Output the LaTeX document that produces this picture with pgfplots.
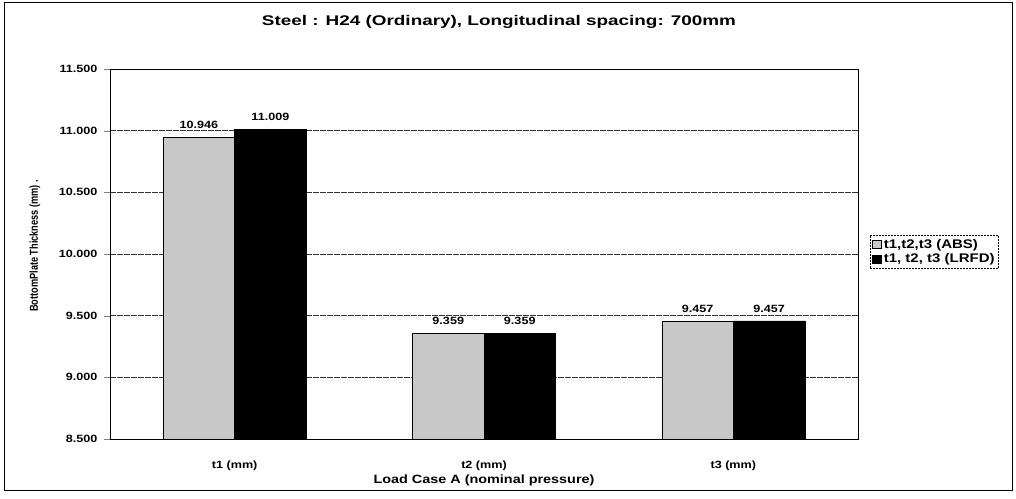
\documentclass[border=0pt]{standalone}
\usepackage{pgfplots}
\pgfplotsset{compat=1.18}
\usepackage{fontspec}
\setmainfont{Liberation Sans}[FakeStretch=1.2]
\newfontfamily\bfont{Liberation Sans Bold}[FakeStretch=1.2]
\newfontfamily\narrowfont{Liberation Sans Bold}[FakeStretch=0.8]
\newfontfamily\titlefont{Liberation Sans Bold}[FakeStretch=1.35]

\definecolor{absgray}{RGB}{200,200,200}

\begin{document}
\begin{tikzpicture}
  % canvas of the reference (1px = 1pt)
  \path (-110pt,-59pt) rectangle (906pt,439pt);
  \begin{axis}[
      name=ax,
      at={(0pt,0pt)}, anchor=south west,
      scale only axis,
      width=748pt, height=370pt,
      ybar=0pt, bar width=71.5pt,
      xmin=-0.5, xmax=2.5,
      ymin=8.5, ymax=11.5,
      xtick={0,1,2},
      xticklabels={t1 (mm), t2 (mm), t3 (mm)},
      ytick={8.5,9,9.5,10,10.5,11,11.5},
      yticklabel style={xshift=-3pt, /pgf/number format/.cd, fixed, fixed zerofill, precision=3, assume math mode=true},
      tick label style={font=\bfont\fontsize{10.5}{12}\selectfont},
      xticklabel style={yshift=-12pt},
      major x tick style={draw=none},
      ytick pos=left, tick align=outside, major tick length=6pt,
      ymajorgrids,
      grid style={black!80, line width=0.5pt, dash pattern=on 6pt off 1pt},
      axis line style={black, line width=0.8pt},
      title={Steel : H24 (Ordinary), Longitudinal spacing: 700mm},
      title style={font=\titlefont\fontsize{14}{16}\selectfont, at={(rel axis cs:0.52,1.111)}, anchor=center},
      xlabel={Load Case A (nominal pressure)},
      xlabel style={font=\bfont\fontsize{12}{14}\selectfont, at={(rel axis cs:0.5,-0.111)}, anchor=center},
      ylabel={BottomPlate Thickness (mm) .},
      ylabel style={font=\narrowfont\fontsize{11.5}{14}\selectfont, at={(rel axis cs:-0.1003,0.522)}, anchor=center, rotate=0},
      nodes near coords,
      nodes near coords style={yshift=5pt, font=\bfont\fontsize{10.5}{12}\selectfont, /pgf/number format/.cd, fixed, fixed zerofill, precision=3, assume math mode=true},
      legend style={
          at={(rel axis cs:1.016,0.551)}, anchor=north west,
          draw=black, dash pattern=on 2pt off 1pt, line width=0.4pt,
          font=\bfont\fontsize{12.5}{13}\selectfont,
          row sep=0pt, inner xsep=2pt, inner ysep=2pt,
          legend cell align=left,
      },
      legend image code/.code={\draw[#1, solid] (0pt,-4pt) rectangle (9pt,4pt);},
  ]
  \addplot[draw=black, line width=0.6pt, fill=absgray] coordinates {(0,10.946) (1,9.359) (2,9.457)};
  \addlegendentry{t1,t2,t3 (ABS)}
  \addplot[draw=black, line width=0.6pt, fill=black] coordinates {(0,11.009) (1,9.359) (2,9.457)};
  \addlegendentry{t1, t2, t3 (LRFD)}
  \end{axis}
  % outer chart frame
  \draw[black, line width=1pt] (-105pt,-51pt) rectangle (902pt,436pt);
\end{tikzpicture}
\end{document}
